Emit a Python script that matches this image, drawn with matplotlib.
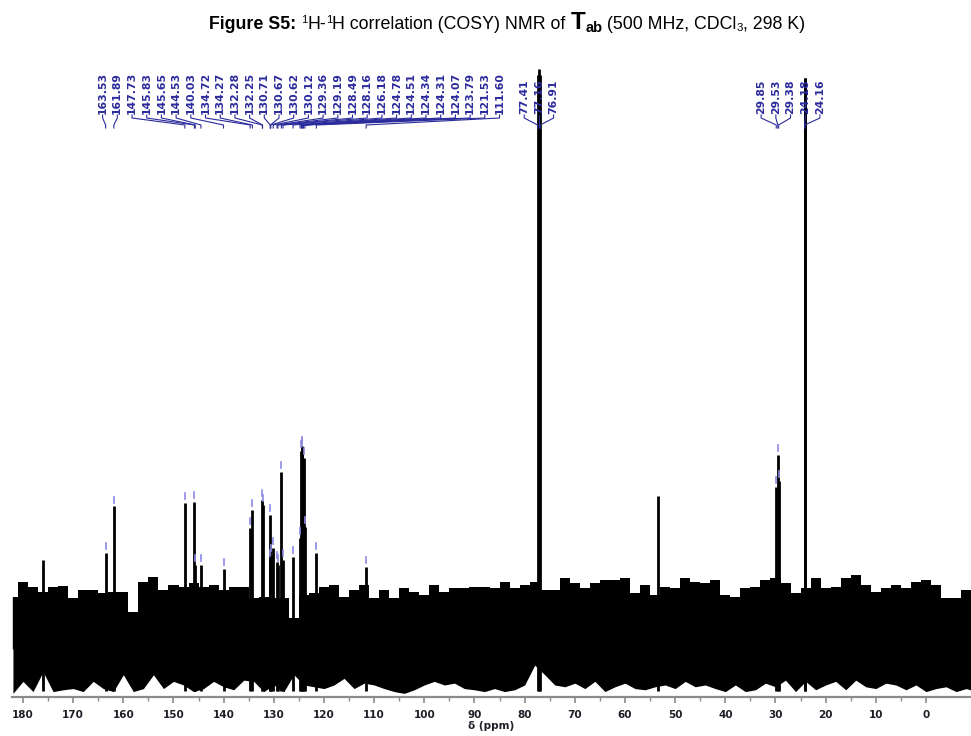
import matplotlib
matplotlib.use("Agg")
import matplotlib.pyplot as plt
import matplotlib.transforms as mtransforms
import numpy as np

# ============ data ============

# picked peaks (ppm) and their heights (arbitrary intensity, axis = 0..105)
peak_ppm = [163.53, 161.89, 147.73, 145.83, 145.65, 144.53, 140.03, 134.72,
            134.27, 132.28, 132.25, 130.71, 130.67, 130.62, 130.12, 129.36,
            129.19, 128.49, 128.16, 126.18, 124.78, 124.51, 124.34, 124.31,
            124.07, 123.79, 121.53, 111.60, 77.41, 77.16, 76.91,
            29.85, 29.53, 29.38, 24.18, 24.16]
peak_int = [24.0, 31.7, 32.3, 32.5, 22.0, 22.0, 21.3, 28.2,
            31.2, 32.8, 32.0, 30.3, 22.8, 23.7, 24.8, 22.5,
            22.0, 37.5, 22.8, 23.3, 26.5, 41.0, 41.7, 41.3,
            39.8, 28.3, 24.0, 21.7, 103.5, 104.5, 103.5,
            35.0, 40.3, 36.0, 103.0, 103.0]

# unlabelled signals
other_ppm = [176.0, 53.4]
other_int = [22.8, 33.5]

# noise band envelope, one reading every 2 ppm from 182 down to -10
noise_ppm = np.arange(182, -11, -2)
noise_top = [16.7, 19.2, 18.3, 17.5, 18.3, 18.5, 16.5, 17.8, 17.8, 17.3,
             17.5, 17.5, 14.2, 19.2, 20.0, 17.8, 18.7, 18.3, 19.0, 18.3,
             18.7, 17.8, 18.3, 18.3, 16.5, 16.7, 16.5, 16.5, 13.2, 17.0,
             17.3, 18.3, 18.7, 16.7, 17.8, 18.7, 16.5, 17.8, 16.5, 18.2,
             17.5, 17.0, 18.7, 17.5, 18.2, 18.2, 18.3, 18.3, 18.2, 19.2,
             18.2, 18.7, 19.2, 17.8, 17.8, 19.8, 19.0, 18.2, 19.0, 19.5,
             19.5, 19.8, 17.3, 18.7, 17.0, 18.3, 18.2, 19.8, 19.2, 19.0,
             19.5, 17.0, 16.7, 18.2, 18.3, 19.5, 19.8, 19.0, 17.3, 18.2,
             19.8, 18.2, 18.3, 19.8, 20.3, 18.7, 17.5, 18.2, 18.7, 18.2,
             19.2, 19.5, 18.7, 16.5, 16.5, 17.8, 18.3]
noise_bot = [0.6, 2.6, 0.9, 4.2, 0.9, 1.2, 1.4, 0.9, 2.6, 1.4,
             0.9, 3.7, 0.9, 1.4, 3.7, 1.4, 2.6, 2.0, 0.9, 1.4,
             2.6, 1.7, 1.2, 2.8, 2.6, 0.9, 2.0, 0.9, 3.7, 2.0,
             1.7, 1.4, 2.0, 3.1, 1.4, 2.3, 2.0, 1.4, 0.9, 0.6,
             1.2, 2.0, 2.6, 2.0, 2.3, 1.4, 1.2, 0.9, 1.4, 0.9,
             1.2, 2.0, 5.3, 3.7, 2.0, 1.7, 2.3, 1.4, 2.6, 0.9,
             1.7, 2.3, 1.4, 1.2, 1.7, 2.0, 1.4, 2.6, 1.7, 2.0,
             1.4, 0.9, 2.0, 0.9, 1.2, 2.3, 1.7, 2.8, 0.9, 2.6,
             1.2, 2.0, 2.6, 1.2, 2.8, 1.7, 1.4, 2.3, 2.0, 1.2,
             2.0, 0.9, 1.4, 1.7, 0.9, 1.4, 0.9]

x_ticks = [180, 170, 160, 150, 140, 130, 120, 110, 100, 90, 80, 70, 60, 50, 40, 30, 20, 10, 0]


# ============ helpers ============

def spread_labels(px, gap, lo):
    """Group overlapping labels, spread each group evenly around its middle,
    never starting left of `lo`."""
    clusters = [[i] for i in range(len(px))]

    def slots(c):
        start = (px[c[0]] + px[c[-1]]) / 2.0 - gap * (len(c) - 1) / 2.0
        start = max(start, lo)
        return [start + gap * k for k in range(len(c))]

    merged = True
    while merged:
        merged = False
        for j in range(len(clusters) - 1):
            if slots(clusters[j])[-1] + gap > slots(clusters[j + 1])[0] + 1e-9:
                clusters[j] = clusters[j] + clusters.pop(j + 1)
                merged = True
                break
    out = []
    for c in clusters:
        out.extend(slots(c))
    return out


def draw_title(fig, pieces, cx, y_base):
    """pieces: (text, size, weight, dy_px). Centered on cx (pixels)."""
    r = fig.canvas.get_renderer()
    ident = mtransforms.IdentityTransform()
    objs, widths = [], []
    for s, size, weight, dy in pieces:
        t = fig.text(0, 0, s, fontsize=size, fontweight=weight,
                     family=["Liberation Sans", "DejaVu Sans"],
                     ha="left", va="baseline", transform=ident)
        objs.append((t, dy))
        widths.append(t.get_window_extent(r).width)
    x = cx - sum(widths) / 2.0
    for (t, dy), w in zip(objs, widths):
        t.set_position((x, y_base + dy))
        x += w


# ============ figure ============

W, H, DPI = 971, 736, 100
fig = plt.figure(figsize=(W / DPI, H / DPI), dpi=DPI)
ax = fig.add_axes([12 / W, 1 - 697 / H, 1 - 12 / W, (697 - 66) / H])
ax.set_xlim(182.19, -8.97)
ax.set_ylim(0, 105)

# noise band: ragged bottom, blocky spiky top
core = 8.0
ax.fill_between(noise_ppm, noise_bot, core + 0.5, color="black", lw=0)
ax.fill_between(noise_ppm, core, noise_top, step="mid", color="black", lw=0)
ax.vlines(noise_ppm, core, noise_top, color="black", lw=1.0)

# peaks
ax.vlines(peak_ppm, 1.0, peak_int, color="black", lw=2.0)
ax.vlines(other_ppm, 1.0, other_int, color="black", lw=2.0)

# peak-pick markers
for p, h in zip(peak_ppm, peak_int):
    if h < 100:
        ax.plot([p, p], [h + 0.6, h + 1.6], color="#8a8ae6", lw=1.2)

# axis styling
for side in ("top", "left", "right"):
    ax.spines[side].set_visible(False)
ax.spines["bottom"].set_color("#8c8c8c")
ax.spines["bottom"].set_linewidth(1.6)
ax.set_yticks([])
ax.set_xticks(x_ticks)
ax.set_xticklabels([str(t) for t in x_ticks], fontsize=7.5, fontweight="bold",
                   color="#1e1e28")
ax.set_xticks(np.array(x_ticks[:-1]) - 5, minor=True)
ax.tick_params(axis="x", which="major", length=4, width=1.2, color="#8c8c8c", pad=5)
ax.tick_params(axis="x", which="minor", length=3, width=1.0, color="#8c8c8c")
ax.set_xlabel("δ (ppm)", fontsize=7.5, fontweight="bold", color="#1e1e28", labelpad=1)

# peak labels with leader lines (pixel coordinates)
ident = mtransforms.IdentityTransform()
px = [ax.transData.transform((p, 0))[0] for p in peak_ppm]
lx = spread_labels(px, 14.7, px[0] - 3)
label_color = "#2b2b9c"
y_txt = H - 114
y0, y1, y2, y3 = H - 115, H - 118, H - 125, H - 128
for p, x_pk, x_lb in zip(peak_ppm, px, lx):
    fig.text(x_lb, y_txt, f"{p:.2f}", rotation=90, ha="center", va="bottom",
             fontsize=7.8, fontweight="bold", color=label_color, transform=ident)
    fig.lines.append(plt.Line2D([x_lb, x_lb, x_pk, x_pk], [y0, y1, y2, y3],
                                color=label_color, lw=0.8, transform=ident))

# title
title_pieces = [
    ("Figure S5:", 12.8, "bold", 0),
    (" ", 12.8, "normal", 0),
    ("1", 8.2, "normal", 6),
    ("H-", 12.8, "normal", 0),
    ("1", 8.2, "normal", 6),
    ("H correlation (COSY) NMR of ", 12.8, "normal", 0),
    ("T", 17.5, "bold", 0),
    ("ab", 10.5, "bold", -3),
    (" (500 MHz, CDCl", 12.8, "normal", 0),
    ("3", 8.2, "normal", -2),
    (", 298 K)", 12.8, "normal", 0),
]
draw_title(fig, title_pieces, 507, H - 29)

fig.savefig("out.png", dpi=DPI)
